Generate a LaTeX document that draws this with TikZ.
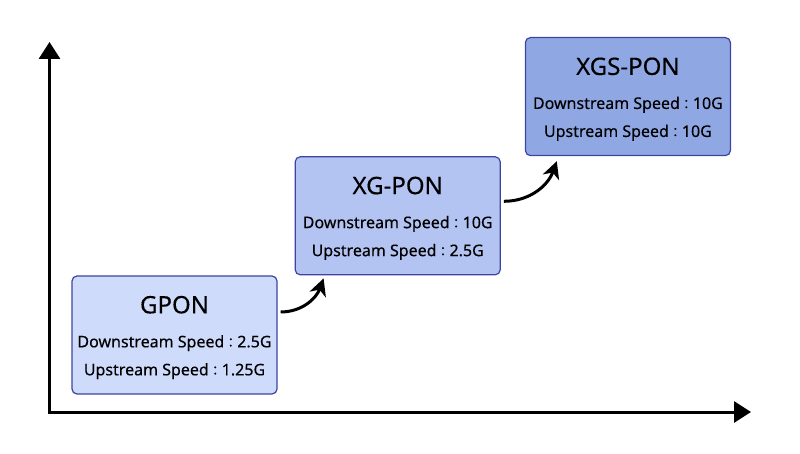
\documentclass[tikz,border=0pt]{standalone}
\usepackage{fontspec}
\setmainfont{Noto Sans}
\newfontfamily\ponfont[FakeBold=0.3]{Noto Sans}
\newfontfamily\cjk[FakeBold=0.3]{Noto Sans CJK TC}
\usetikzlibrary{arrows.meta,positioning}

\definecolor{ponborder}{HTML}{3E44A0}
\definecolor{gponfill}{HTML}{CFDBFA}
\definecolor{xgponfill}{HTML}{B3C4F2}
\definecolor{xgsponfill}{HTML}{8FA7E3}

\newcommand{\pontitle}[1]{{\fontsize{24pt}{30pt}\selectfont\rule{0pt}{22.5pt}#1}\\[6pt]}
\newcommand{\ponsep}{{\cjk\fontsize{13pt}{13pt}\selectfont ：}}

\begin{document}
\begin{tikzpicture}[x=1pt, y=-1pt, thick,
    pon node/.style={rectangle, rounded corners=5pt, draw=ponborder, line width=1.2pt, inner sep=0pt,
        minimum width=205pt, minimum height=118pt, align=center, font=\ponfont\fontsize{16pt}{28pt}\selectfont},
    axis line/.style={line width=3pt, -{Triangle[length=17pt, width=21pt]}},
    step arrow/.style={line width=3pt, -{Stealth[length=17pt, width=17pt, inset=5pt]}}]
    \useasboundingbox (0,0) rectangle (800,454);
    \coordinate (O) at (49.5,412);
    \coordinate (Ytop) at (49.5,42);
    \coordinate (Xend) at (751,412);
    \draw[axis line] ([yshift=-1.5pt]O) -- (Ytop);
    \draw[axis line] ([xshift=-1.5pt]O) -- (Xend);

    \node[pon node, fill=gponfill] (gpon) at (174.5,335)
        {\pontitle{GPON}Downstream Speed\ponsep 2.5G\\Upstream Speed\ponsep 1.25G};
    \node[pon node, fill=xgponfill] (xgpon) [above right=0pt and 17pt of gpon]
        {\pontitle{XG-PON}Downstream Speed\ponsep 10G\\Upstream Speed\ponsep 2.5G};
    \node[pon node, fill=xgsponfill] (xgspon) [above right=0pt and 24pt of xgpon]
        {\pontitle{XGS-PON}Downstream Speed\ponsep 10G\\Upstream Speed\ponsep 10G};

    \draw[step arrow] ([shift={(3pt,23pt)}]gpon.east) to[out=0, in=-110] ([shift={(29pt,-3pt)}]xgpon.south west);
    \draw[step arrow] ([shift={(3pt,14.5pt)}]xgpon.east) to[out=0, in=-110] ([shift={(32pt,-5pt)}]xgspon.south west);
\end{tikzpicture}
\end{document}
